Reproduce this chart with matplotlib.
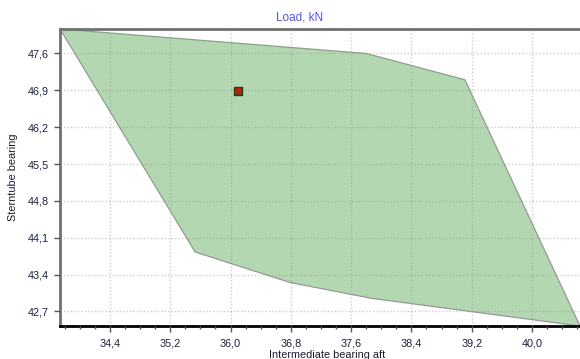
import matplotlib
matplotlib.use("Agg")
import matplotlib.pyplot as plt
from matplotlib.ticker import FuncFormatter, MultipleLocator, FixedLocator

# Data (region polygon vertices, x = Intermediate bearing aft, y = Sterntube bearing)
region_x = [33.737, 37.80, 39.11, 40.637, 37.87, 36.79, 35.53]
region_y = [48.065, 47.60, 47.10, 42.424, 42.95, 43.25, 43.83]
point_x = [36.10]
point_y = [46.89]
x_ticks = [34.4, 35.2, 36.0, 36.8, 37.6, 38.4, 39.2, 40.0]
y_ticks = [42.7, 43.4, 44.1, 44.8, 45.5, 46.2, 46.9, 47.6]

plt.rcParams['font.family'] = ['Liberation Sans', 'DejaVu Sans']
fs = 7.8
W, H = 580, 359
fig = plt.figure(figsize=(W / 100, H / 100), dpi=100)
ax = fig.add_axes([60 / W, (H - 326) / H, 520 / W, (326 - 29) / H])

ax.fill(region_x, region_y, facecolor='#b3d8b1', edgecolor='#909c90', lw=0.9, zorder=1)
ax.plot(point_x, point_y, marker='s', ls='none', ms=6, mfc='#b82000',
        mec='#1f3f1f', mew=1.0, zorder=5)

ax.set_xlim(min(region_x), max(region_x))
ax.set_ylim(min(region_y), max(region_y))
ax.xaxis.set_major_locator(FixedLocator(x_ticks))
ax.xaxis.set_minor_locator(MultipleLocator(0.2))
ax.yaxis.set_major_locator(FixedLocator(y_ticks))

fmt = FuncFormatter(lambda v, p: f"{v:.1f}".replace('.', ','))
ax.xaxis.set_major_formatter(fmt)
ax.yaxis.set_major_formatter(fmt)

ax.grid(True, which='major', color='#909090', alpha=0.45, ls=(0, (1, 1.5)), lw=1.0, zorder=2)
ax.set_axisbelow(False)

ax.spines['right'].set_visible(False)
ax.spines['top'].set_color('#707070')
ax.spines['top'].set_linewidth(2)
ax.spines['left'].set_color('#707070')
ax.spines['left'].set_linewidth(2)
ax.spines['bottom'].set_color('#000000')
ax.spines['bottom'].set_linewidth(2)

ax.tick_params(axis='both', which='major', labelsize=fs, colors='#555555',
               labelcolor='#1a2040', length=4, width=1)
ax.tick_params(axis='x', which='major', pad=5)
ax.tick_params(axis='y', which='major', pad=4)
ax.tick_params(axis='x', which='minor', length=2, width=1, color='#555555')

ax.set_xlabel('Intermediate bearing aft', fontsize=fs, color='#1a1a30', labelpad=0)
ax.xaxis.set_label_coords((327 - 60) / 520, -28.5 / 297)
ax.xaxis.label.set_va('center')
ax.set_ylabel('Sterntube bearing', fontsize=fs, color='#1a1a30', labelpad=7)
fig.text(300 / W, 1 - 18 / H, 'Load, kN', fontsize=8.5, color='#5050ff',
         ha='center', va='center')

fig.savefig('out.png', dpi=100)
